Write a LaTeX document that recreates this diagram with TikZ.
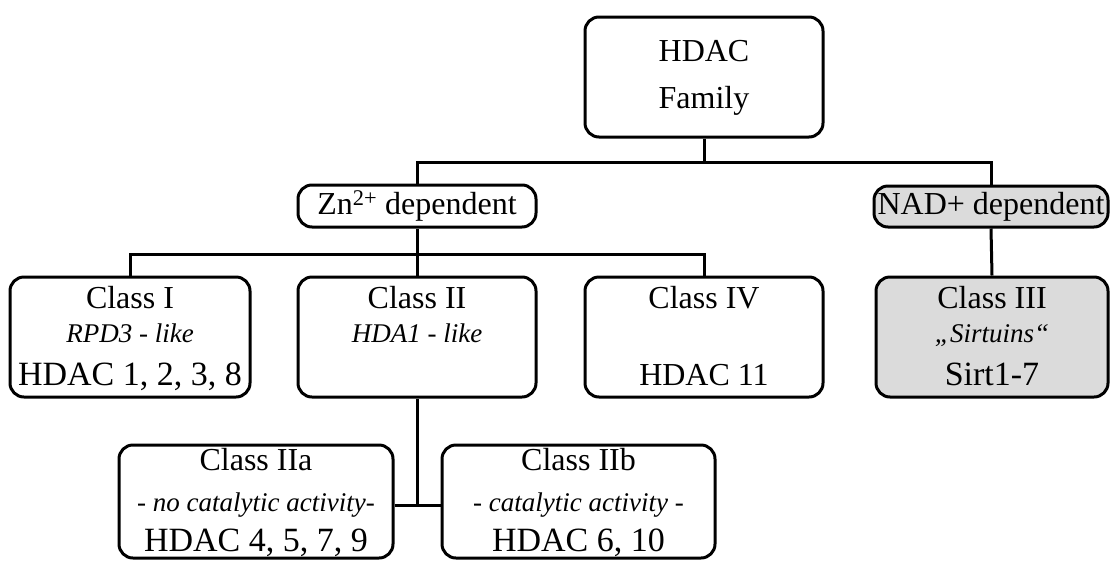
\documentclass[tikz,border=0pt]{standalone}
\usepackage{fontspec}
\setmainfont{Liberation Serif}
\usetikzlibrary{calc}
\begin{document}
\begin{tikzpicture}[x=1pt,y=-1pt,
  box/.style={draw=black, line width=3pt, rounded corners=14pt, inner sep=0pt, fill=white},
  graybox/.style={box, fill=black!14},
  conn/.style={draw=black, line width=3pt},
  lbl/.style={inner sep=0pt, anchor=base, font=\fontsize{32}{36}\selectfont},
  big/.style={lbl, font=\fontsize{34}{38}\selectfont},
  sub/.style={inner sep=0pt, anchor=base, font=\fontsize{27}{30}\selectfont\itshape}]
\useasboundingbox (0,0) rectangle (1110,560);
% boxes
\node[box, minimum width=238pt, minimum height=120pt] (fam) at (704,77) {};
\node[box, minimum width=238pt, minimum height=42pt] (zn) at (417,206) {};
\node[graybox, minimum width=234pt, minimum height=41pt] (nad) at (991,206.5) {};
\node[box, minimum width=240pt, minimum height=120pt] (c1) at (130,337) {};
\node[box, minimum width=238pt, minimum height=120pt] (c2) at (417,337) {};
\node[box, minimum width=238pt, minimum height=120pt] (c4) at (704,337) {};
\node[graybox, minimum width=232pt, minimum height=120pt] (c3) at (992,337) {};
\node[box, minimum width=274pt, minimum height=113pt] (c2a) at (256,501.5) {};
\node[box, minimum width=273pt, minimum height=113pt] (c2b) at (578.5,501.5) {};
% texts
\node[lbl] (famA) at ($(fam.north)+(0,46)$) {HDAC};
\node[lbl] (famB) at ($(fam.north)+(0,93)$) {Family};
\node[lbl] (znT) at ($(zn.north)+(0,31)$) {Zn\textsuperscript{2+} dependent};
\node[lbl] (nadT) at ($(nad.north)+(0,29.5)$) {NAD+ dependent};
\node[lbl] (c1A) at ($(c1.north)+(0,33)$) {Class I};
\node[sub] (c1B) at ($(c1.north)+(0,67)$) {RPD3 \textup{-} like};
\node[big] (c1C) at ($(c1.north)+(0,110)$) {HDAC 1, 2, 3, 8};
\node[lbl] (c2A) at ($(c2.north)+(0,33)$) {Class II};
\node[sub] (c2B) at ($(c2.north)+(0,67)$) {HDA1 \textup{-} like};
\node[lbl] (c4A) at ($(c4.north)+(0,33)$) {Class IV};
\node[lbl] (c4C) at ($(c4.north)+(0,110)$) {HDAC 11};
\node[lbl] (c3A) at ($(c3.north)+(0,33)$) {Class III};
\node[sub] (c3B) at ($(c3.north)+(0,67)$) {„Sirtuins“};
\node[big] (c3C) at ($(c3.north)+(0,110)$) {Sirt1-7};
\node[lbl] (c2aA) at ($(c2a.north)+(0,27)$) {Class IIa};
\node[sub] (c2aB) at ($(c2a.north)+(0,68)$) {- no catalytic activity-};
\node[big] (c2aC) at ($(c2a.north)+(0,108)$) {HDAC 4, 5, 7, 9};
\node[lbl] (c2bA) at ($(c2b.north)+(0,27)$) {Class IIb};
\node[sub] (c2bB) at ($(c2b.north)+(0,68)$) {- catalytic activity -};
\node[big] (c2bC) at ($(c2b.north)+(0,108)$) {HDAC 6, 10};
% junctions
\coordinate (j1) at ($(fam.south)+(0,24)$);
\coordinate (j2) at ($(zn.south)+(0,26)$);
\coordinate (j3) at (c2.south |- 0,505);
% connectors
\draw[conn] (fam.south) -- (j1);
\draw[conn] (zn.north) |- (j1) -| (nad.north);
\draw[conn] (zn.south) -- (j2);
\draw[conn] (c1.north) |- (j2) -| (c4.north);
\draw[conn] (j2) -- (c2.north);
\draw[conn] (nad.south) -- (c3.north);
\draw[conn] (c2.south) -- (j3);
\draw[conn] (c2a.east |- j3) -- (c2b.west |- j3);
\end{tikzpicture}
\end{document}
